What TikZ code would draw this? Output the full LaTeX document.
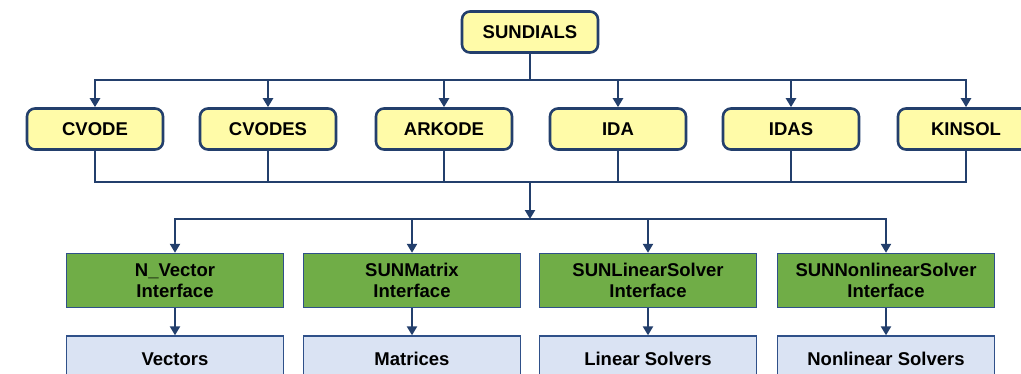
\documentclass[tikz,border=0pt]{standalone}
\usepackage{fontspec}
\setmainfont{Liberation Sans}
\usetikzlibrary{arrows.meta}
\definecolor{navy}{HTML}{233F6C}
\definecolor{ylw}{HTML}{FFFBA8}
\definecolor{grn}{HTML}{70AD47}
\definecolor{grnborder}{HTML}{2F5089}
\definecolor{lblue}{HTML}{DAE3F3}
\begin{document}
\begin{tikzpicture}[x=1pt,y=-1pt,
  every node/.style={font=\fontsize{18.5}{21.5}\selectfont\bfseries, text=black, align=center, inner sep=0pt},
  ybox/.style={draw=navy, line width=2.6pt, fill=ylw, rounded corners=8pt, minimum width=136pt, minimum height=41pt},
  gbox/.style={draw=grnborder, line width=1.4pt, fill=grn, minimum width=217pt, minimum height=54pt},
  bbox/.style={draw=grnborder, line width=1.4pt, fill=lblue, minimum width=217pt, minimum height=46pt},
  conn/.style={draw=navy, line width=2.6pt},
  arr/.style={conn, -{Triangle[length=9pt,width=10pt]}}]
\useasboundingbox (0,0) rectangle (1021,373);
\node[ybox] (sun) at (530,32) {SUNDIALS};
\node[ybox] (cvode) at (95,129) {CVODE};
\node[ybox] (cvodes) at (268,129) {CVODES};
\node[ybox] (arkode) at (444,129) {ARKODE};
\node[ybox] (ida) at (618,129) {IDA};
\node[ybox] (idas) at (791,129) {IDAS};
\node[ybox] (kinsol) at (966,129) {KINSOL};
\node[gbox] (nvec) at (175,280.5) {N\_Vector\\Interface};
\node[gbox] (smat) at (412,280.5) {SUNMatrix\\Interface};
\node[gbox] (sls) at (648,280.5) {SUNLinearSolver\\Interface};
\node[gbox] (snls) at (886,280.5) {SUNNonlinearSolver\\Interface};
\node[bbox] (vec) at (175,359) {Vectors};
\node[bbox] (mat) at (412,359) {Matrices};
\node[bbox] (ls) at (648,359) {Linear Solvers};
\node[bbox] (nls) at (886,359) {Nonlinear Solvers};
\coordinate (bus1) at (530,80);
\coordinate (bus2) at (530,182);
\coordinate (bus3) at (530,219);
% top bus
\draw[conn] (sun.south) -- (bus1);
\draw[conn, line cap=rect] (cvode.north |- bus1) -- (kinsol.north |- bus1);
\foreach \n in {cvode,cvodes,arkode,ida,idas,kinsol}
  \draw[arr] (\n.north |- bus1) -- (\n.north);
% middle bus
\foreach \n in {cvode,cvodes,arkode,ida,idas,kinsol}
  \draw[conn] (\n.south) -- (\n.south |- bus2);
\draw[conn, line cap=rect] (cvode.south |- bus2) -- (kinsol.south |- bus2);
\draw[arr] (bus2) -- (bus3);
% lower bus
\draw[conn, line cap=rect] (nvec.north |- bus3) -- (snls.north |- bus3);
\foreach \n in {nvec,smat,sls,snls}
  \draw[arr] (\n.north |- bus3) -- (\n.north);
\draw[arr] (nvec) -- (vec);
\draw[arr] (smat) -- (mat);
\draw[arr] (sls) -- (ls);
\draw[arr] (snls) -- (nls);
\end{tikzpicture}
\end{document}
